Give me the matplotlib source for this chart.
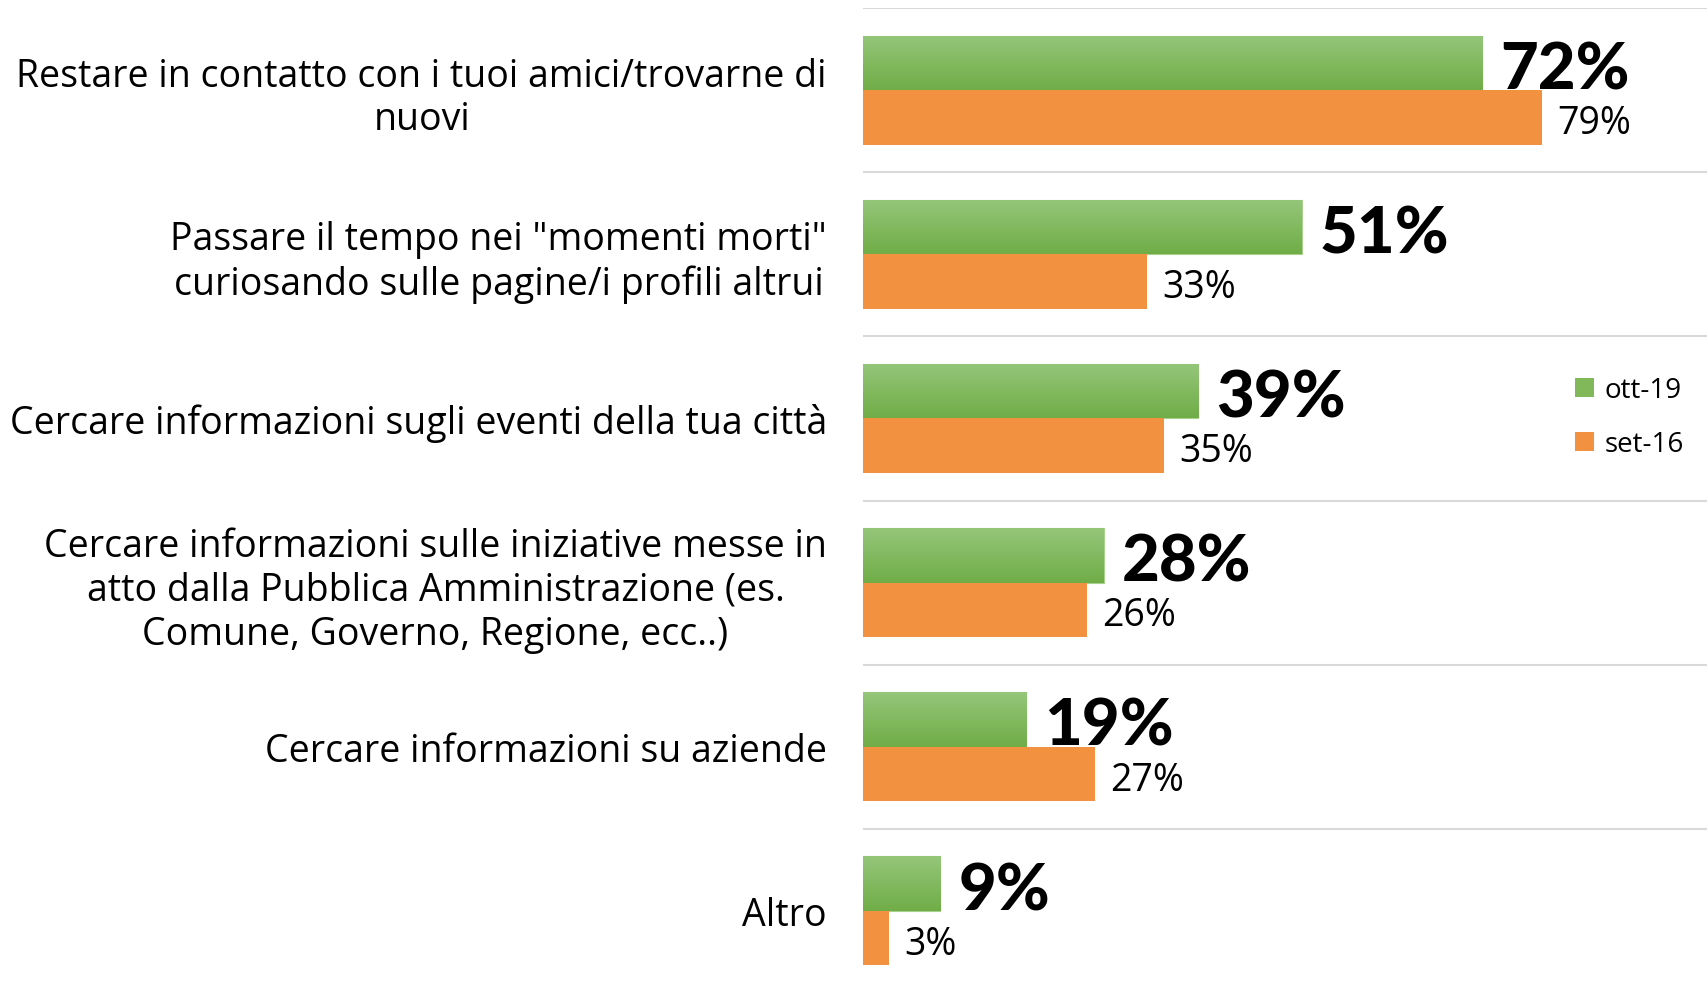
import numpy as np
import matplotlib
matplotlib.use("Agg")
import matplotlib.pyplot as plt
from matplotlib.colors import LinearSegmentedColormap
from matplotlib.patches import Patch

categories = [
    "Restare in contatto con i tuoi amici/trovarne di\nnuovi",
    "Passare il tempo nei \"momenti morti\"\ncuriosando sulle pagine/i profili altrui",
    "Cercare informazioni sugli eventi della tua città",
    "Cercare informazioni sulle iniziative messe in\natto dalla Pubblica Amministrazione (es.\nComune, Governo, Regione, ecc..)",
    "Cercare informazioni su aziende",
    "Altro",
]
ott19 = [72, 51, 39, 28, 19, 9]
set16 = [79, 33, 35, 26, 27, 3]
series_names = ["ott-19", "set-16"]

GREEN_TOP = "#95C67A"
GREEN_BOT = "#70AD47"
GREEN = "#80B85A"
ORANGE = "#F29241"
LABEL_FONT = "Open Sans"
BIG_FONT = "Lato"

fig = plt.figure(figsize=(17.07, 9.87), dpi=100)
ax = fig.add_axes([863 / 1707, -7 / 987, 844 / 1707, 985 / 987])

n = len(categories)
y = np.arange(n)
h = 0.332

green_bars = ax.barh(y - h / 2, ott19, height=h, color=GREEN, edgecolor="#A9D18E", linewidth=0.8, zorder=2)
orange_bars = ax.barh(y + h / 2, set16, height=h, color=ORANGE, edgecolor="none", zorder=2)

cmap = LinearSegmentedColormap.from_list("g", [GREEN_TOP, GREEN_BOT])
grad = np.linspace(0, 1, 64).reshape(-1, 1)
for bar in green_bars:
    x0, y0 = bar.get_x(), bar.get_y()
    w, hh = bar.get_width(), bar.get_height()
    im = ax.imshow(grad, cmap=cmap, aspect="auto", extent=[x0, x0 + w, y0 + hh, y0],
                   origin="upper", zorder=2.5, interpolation="bilinear")
    im.set_clip_path(bar)

ax.set_xlim(0, 844 / 8.6)
ax.set_ylim(n - 0.5, -0.5)

for b in np.arange(-0.5, n, 1.0):
    ax.axhline(b, color="#D9D9D9", linewidth=1.5, zorder=1)

for spine in ax.spines.values():
    spine.set_visible(False)
ax.set_xticks([])
ax.set_yticks(y)
ax.set_yticklabels(categories, fontsize=27, fontfamily=LABEL_FONT, multialignment="center")
ax.tick_params(axis="y", length=0, pad=26)

for bar, v in zip(green_bars, ott19):
    ax.annotate(f"{v}%", xy=(bar.get_width(), bar.get_y() + bar.get_height() / 2),
                xytext=(13, -5), textcoords="offset points", ha="left", va="center",
                fontsize=47, fontweight="black", fontfamily=BIG_FONT, color="black", zorder=4)
for bar, v in zip(orange_bars, set16):
    ax.annotate(f"{v}%", xy=(bar.get_width(), bar.get_y() + bar.get_height() / 2),
                xytext=(11, -4), textcoords="offset points", ha="left", va="center",
                fontsize=27, fontfamily=LABEL_FONT, color="black", zorder=4)

handles = [Patch(facecolor=GREEN, edgecolor="none"), Patch(facecolor=ORANGE, edgecolor="none")]
fig.legend(handles, series_names, loc="upper left", bbox_to_anchor=(1575 / 1707, 1 - 377 / 987),
           frameon=False, prop={"family": LABEL_FONT, "size": 20},
           handlelength=0.7, handleheight=0.7, handletextpad=0.35, labelspacing=0.95,
           borderpad=0, borderaxespad=0)

fig.savefig("out.png", dpi=100)
